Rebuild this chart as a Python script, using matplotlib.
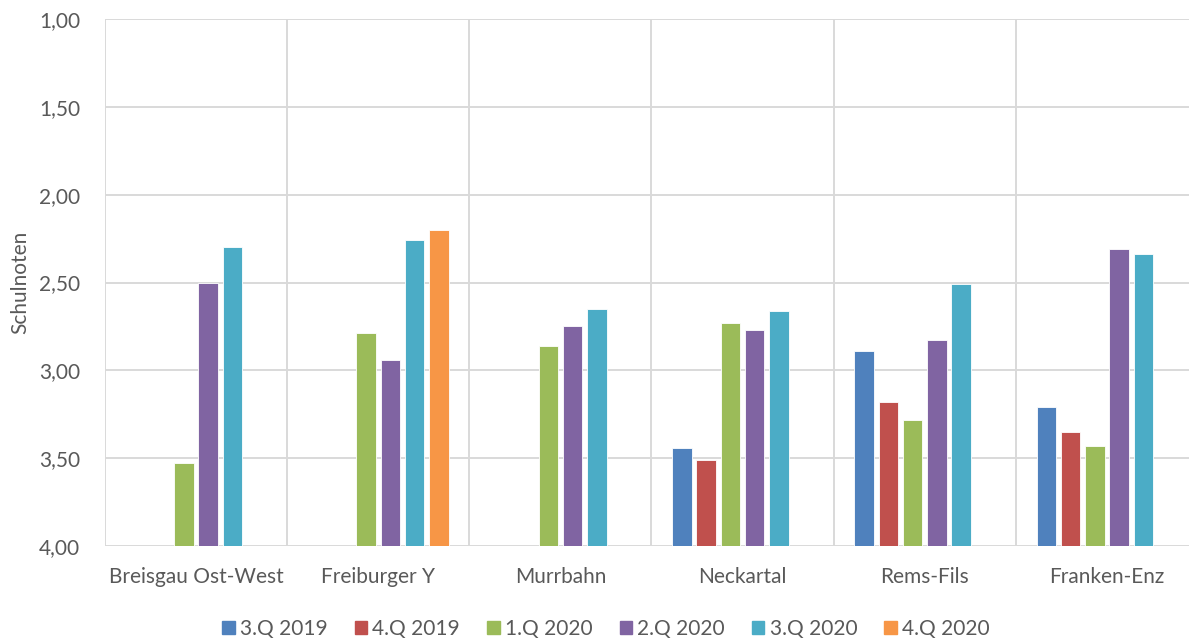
import matplotlib.pyplot as plt
import numpy as np

strecken = ["Breisgau Ost-West", "Freiburger Y", "Murrbahn", "Neckartal", "Rems-Fils", "Franken-Enz"]
quartale = ["3.Q 2019", "4.Q 2019", "1.Q 2020", "2.Q 2020", "3.Q 2020", "4.Q 2020"]
farben = ["#4F81BD", "#C0504D", "#9BBB59", "#8064A2", "#4BACC6", "#F79646"]

nan = np.nan
q3_2019 = [nan, nan, nan, 3.44, 2.89, 3.21]
q4_2019 = [nan, nan, nan, 3.51, 3.18, 3.35]
q1_2020 = [3.53, 2.79, 2.86, 2.73, 3.28, 3.43]
q2_2020 = [2.50, 2.94, 2.75, 2.77, 2.83, 2.31]
q3_2020 = [2.30, 2.26, 2.65, 2.66, 2.51, 2.34]
q4_2020 = [nan, 2.20, nan, nan, nan, nan]
noten = [q3_2019, q4_2019, q1_2020, q2_2020, q3_2020, q4_2020]

y_ticks = [1.0, 1.5, 2.0, 2.5, 3.0, 3.5, 4.0]

plt.rcParams['font.family'] = ['Lato', 'DejaVu Sans']
grau = "#595959"
linie = "#D9D9D9"
fs = 15

W, H = 1189, 641
fig = plt.figure(figsize=(W / 100, H / 100), dpi=100)
ax = fig.add_axes([105 / W, 95 / H, (1198 - 105) / W, 527 / H])

x = np.arange(len(strecken))
step = 0.133
width = 0.107
for i, (werte, farbe) in enumerate(zip(noten, farben)):
    werte = np.array(werte)
    ok = ~np.isnan(werte)
    # bars grow from 4,00 up to the grade (inverted axis)
    ax.bar(x[ok] + (i - 2.5) * step, werte[ok] - 4.0, bottom=4.0, width=width,
           color=farbe, edgecolor="white", linewidth=0.6, zorder=3)

ax.set_xlim(-0.5, len(strecken) - 0.5)
ax.set_ylim(4.0, 1.0)
ax.set_yticks(y_ticks)
ax.set_yticklabels([f"{v:.2f}".replace(".", ",") for v in y_ticks])
ax.set_xticks(x)
ax.set_xticklabels(strecken)

# horizontal grid plus separators between categories
for v in y_ticks:
    ax.axhline(v, color=linie, linewidth=1.4, zorder=1)
for b in np.arange(len(strecken) + 1) - 0.5:
    ax.axvline(b, color=linie, linewidth=1.4, zorder=1)

for s in ax.spines.values():
    s.set_visible(False)
ax.tick_params(axis="both", length=0, colors=grau, labelsize=fs)
ax.tick_params(axis="y", pad=18)
ax.tick_params(axis="x", pad=15)

ax.set_ylabel("Schulnoten", color=grau, fontsize=fs, labelpad=6)

handles = [plt.Rectangle((0, 0), 1, 1, color=c) for c in farben]
fig.legend(handles, quartale, loc="center", bbox_to_anchor=(606 / W, 12 / H), ncol=6,
           frameon=False, fontsize=fs, handlelength=0.6, handleheight=0.6,
           handletextpad=0.25, columnspacing=1.3, labelcolor=grau)

fig.savefig("out.png", dpi=100)
